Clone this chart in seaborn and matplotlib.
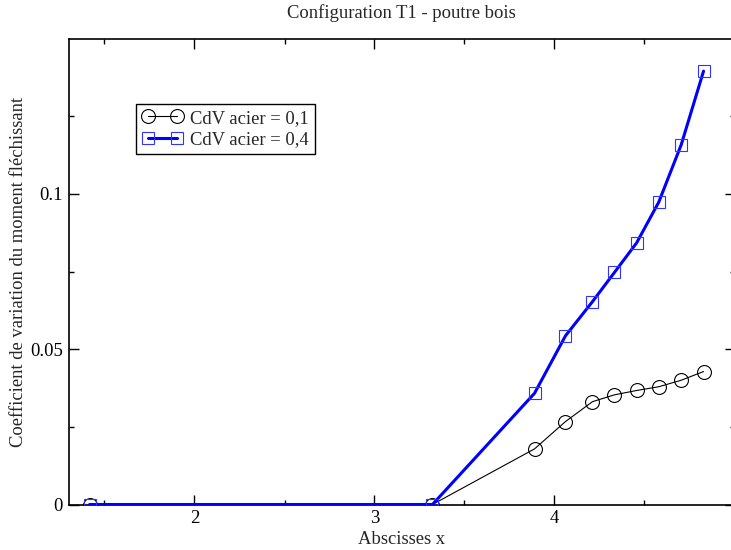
import matplotlib
matplotlib.use("Agg")
import matplotlib.pyplot as plt
import seaborn as sns
import pandas as pd
from matplotlib.ticker import FixedLocator, FuncFormatter

sns.set_theme(style="ticks")
plt.rcParams['font.family'] = ['Liberation Serif', 'DejaVu Serif']

# Data
x_01 = [1.417, 3.322, 3.889, 4.061, 4.211, 4.333, 4.456, 4.579, 4.704, 4.828]
y_01 = [0.0, 0.0, 0.0179, 0.0267, 0.0331, 0.0353, 0.0367, 0.0379, 0.0400, 0.0428]
x_04 = [1.417, 3.322, 3.889, 4.061, 4.211, 4.333, 4.456, 4.579, 4.704, 4.828]
y_04 = [0.0, 0.0, 0.0358, 0.0543, 0.0653, 0.0747, 0.0842, 0.0973, 0.1158, 0.1395]
labels = ["CdV acier = 0,1", "CdV acier = 0,4"]
title = "Configuration T1 - poutre bois"
xlabel = "Abscisses x"
ylabel = "Coefficient de variation du moment fléchissant"

df1 = pd.DataFrame({"x": x_01, "y": y_01})
df4 = pd.DataFrame({"x": x_04, "y": y_04})

FS = 13.4
W, H = 731, 550
fig = plt.figure(figsize=(W / 100, H / 100), dpi=100)
left, right, top, bottom = 68.5, 734.5, 38.5, 504.5
ax = fig.add_axes([left / W, 1 - bottom / H, (right - left) / W, (bottom - top) / H])

sns.lineplot(data=df1, x="x", y="y", ax=ax, sort=False, estimator=None,
             color="black", linewidth=0.8, marker="o", markersize=10,
             markerfacecolor="none", markeredgecolor="black", markeredgewidth=0.8,
             label=labels[0], zorder=3)
sns.lineplot(data=df4, x="x", y="y", ax=ax, sort=False, estimator=None,
             color="#0000ff", linewidth=2.2, marker="s", markersize=9,
             markerfacecolor="none", markeredgecolor="#3333ff", markeredgewidth=0.8,
             label=labels[1], zorder=4)

ax.set_xlim(1.3, 5.0)
ax.set_ylim(0, 0.15)
ax.xaxis.set_major_locator(FixedLocator([2, 3, 4]))
ax.xaxis.set_minor_locator(FixedLocator([1.5, 2.5, 3.5, 4.5]))
ax.yaxis.set_major_locator(FixedLocator([0, 0.05, 0.1]))
ax.yaxis.set_minor_locator(FixedLocator([0.025, 0.075, 0.125]))
ax.yaxis.set_major_formatter(FuncFormatter(lambda v, p: "%g" % v))
ax.xaxis.set_major_formatter(FuncFormatter(lambda v, p: "%g" % v))

ax.tick_params(which="both", direction="in", top=True, right=True, colors="black",
               labelsize=FS, width=1.0)
ax.tick_params(which="major", length=7, pad=4)
ax.tick_params(which="minor", length=3.5)
for s in ax.spines.values():
    s.set_visible(True)
    s.set_linewidth(1.2)
    s.set_color("black")

ax.set_title(title, fontsize=FS, pad=15)
ax.set_xlabel(xlabel, fontsize=FS, labelpad=3)
ax.set_ylabel(ylabel, fontsize=FS, labelpad=2.5)

leg = ax.legend(loc="upper left", bbox_to_anchor=(0.102, 0.859), borderaxespad=0,
                numpoints=2, fontsize=FS, frameon=True, fancybox=False,
                edgecolor="black", framealpha=1, handlelength=2.2,
                handletextpad=0.4, borderpad=0.3, labelspacing=0.25)
leg.get_frame().set_linewidth(1.0)

fig.savefig("out.png", dpi=100, facecolor="white")
